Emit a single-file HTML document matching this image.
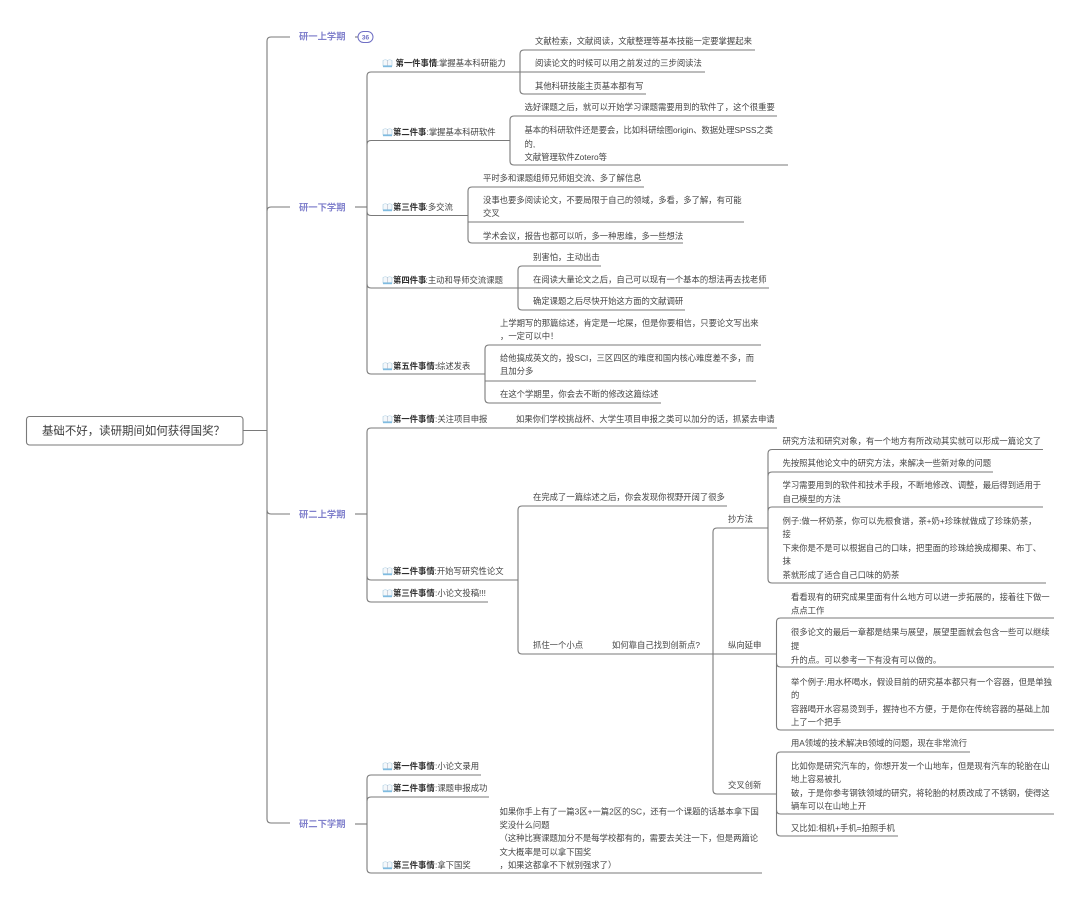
<!DOCTYPE html>
<html lang="zh">
<head>
<meta charset="utf-8">
<title>基础不好，读研期间如何获得国奖？</title>
<style>
html,body{margin:0;padding:0;background:#fff;width:1080px;height:900px;overflow:hidden}
svg{display:block;filter:blur(0.35px)}
text{font-family:"Liberation Sans","Noto Sans CJK SC",sans-serif;font-size:8.35px;fill:#444}
.b{font-weight:bold;fill:#2e2e2e}
.s{font-weight:bold;font-size:9.3px;fill:#8080cc}
.r{font-size:11.45px;fill:#3c3c3c}
.l{fill:none;stroke:#7a7a7a;stroke-width:1.1}
</style>
</head>
<body>
<svg width="1080" height="900" viewBox="0 0 1080 900" xmlns="http://www.w3.org/2000/svg">
<defs>
<g id="i">
<path d="M0 1.5Q2.5 0 4.5 1.5Q6.5 0 9 1.5V7H0Z" fill="#f4f8fb" stroke="#a8cce0" stroke-width=".6"/>
<rect x="0" y="6.4" width="9" height="1.8" fill="#7fbbe0"/>
<line x1="4.5" y1="1.5" x2="4.5" y2="6.5" stroke="#aab" stroke-width=".5"/>
</g>
</defs>

<!-- root -->
<rect x="26.5" y="416.5" width="216.5" height="28.5" rx="3" fill="#fff" stroke="#7a7a7a" stroke-width="1.1"/>
<text class="r" x="42" y="434.500">基础不好，读研期间如何获得国奖？</text>
<path class="l" d="M243 430.5H267"/>

<!-- main trunk and semesters -->
<path class="l" d="M290 37H271Q267 37 267 41V819Q267 823 271 823H290"/>
<path class="l" d="M290 207H271Q267 207 267 211"/>
<path class="l" d="M267 510Q267 514 271 514H290"/>
<text class="s" x="299" y="39.500">研一上学期</text>
<text class="s" x="299" y="210.500">研一下学期</text>
<text class="s" x="299" y="517.500">研二上学期</text>
<text class="s" x="299" y="827">研二下学期</text>
<path class="l" d="M355 37H358"/>
<rect x="358" y="31.500" width="15" height="11" rx="5.500" fill="#fff" stroke="#6f6fc4"/>
<text x="365.500" y="39.500" text-anchor="middle" style="font-size:6.500px;font-weight:bold;fill:#6f6fc4">36</text>

<!-- 研一下学期 -->
<path class="l" d="M355 207H367"/>
<path class="l" d="M520 72H371Q367 72 367 76V370Q367 374 371 374H485"/>
<path class="l" d="M367 144.500Q367 140.500 371 140.500H510"/>
<path class="l" d="M367 211.500Q367 215.500 371 215.500H468"/>
<path class="l" d="M367 284Q367 288 371 288H518"/>

<use href="#i" x="383" y="59"/>
<text class="b" x="395.500" y="66">第一件事情</text><text x="436.700" y="66">:掌握基本科研能力</text>
<use href="#i" x="383" y="128"/>
<text class="b" x="393" y="135">第二件事</text><text x="426.500" y="135">:掌握基本科研软件</text>
<use href="#i" x="383" y="203"/>
<text class="b" x="393" y="210">第三件事</text><text x="425.500" y="210">:多交流</text>
<use href="#i" x="383" y="276"/>
<text class="b" x="393" y="283">第四件事</text><text x="425.500" y="283">:主动和导师交流课题</text>
<use href="#i" x="383" y="362"/>
<text class="b" x="393" y="369">第五件事情:</text><text x="437" y="369">综述发表</text>

<!-- 1 -->
<path class="l" d="M755 50H524Q520 50 520 54V90Q520 94 524 94H646"/>
<path class="l" d="M520 72H705"/>
<text x="535" y="44">文献检索，文献阅读，文献整理等基本技能一定要掌握起来</text>
<text x="535" y="66">阅读论文的时候可以用之前发过的三步阅读法</text>
<text x="535" y="89">其他科研技能主页基本都有写</text>
<!-- 2 -->
<path class="l" d="M777 116H514Q510 116 510 120V161Q510 165 514 165H788"/>
<text x="524.500" y="110">选好课题之后，就可以开始学习课题需要用到的软件了，这个很重要</text>
<text x="524.500" y="133" textLength="248.500" lengthAdjust="spacingAndGlyphs">基本的科研软件还是要会，比如科研绘图origin、数据处理SPSS之类</text>
<text x="524.500" y="147">的,</text>
<text x="524.500" y="160">文献管理软件Zotero等</text>
<!-- 3 -->
<path class="l" d="M644 187H472Q468 187 468 191V239Q468 243 472 243H683"/>
<path class="l" d="M468 222H744"/>
<text x="483" y="181">平时多和课题组师兄师姐交流、多了解信息</text>
<text x="483" y="203">没事也要多阅读论文，不要局限于自己的领域，多看，多了解，有可能</text>
<text x="483" y="216">交叉</text>
<text x="483" y="239">学术会议，报告也都可以听，多一种思维，多一些想法</text>
<!-- 4 -->
<path class="l" d="M601 266H522Q518 266 518 270V306Q518 310 522 310H685"/>
<path class="l" d="M518 288H769"/>
<text x="533" y="260">别害怕，主动出击</text>
<text x="533" y="282.500">在阅读大量论文之后，自己可以现有一个基本的想法再去找老师</text>
<text x="533" y="304">确定课题之后尽快开始这方面的文献调研</text>
<!-- 5 -->
<path class="l" d="M761 345H489Q485 345 485 349V399Q485 403 489 403H661"/>
<path class="l" d="M485 381H756"/>
<text x="500" y="326">上学期写的那篇综述，肯定是一坨屎，但是你要相信，只要论文写出来</text>
<text x="500" y="339">，一定可以中！</text>
<text x="500" y="361" textLength="254" lengthAdjust="spacingAndGlyphs">给他搞成英文的，投SCI，三区四区的难度和国内核心难度差不多，而</text>
<text x="500" y="374">且加分多</text>
<text x="500" y="397">在这个学期里，你会去不断的修改这篇综述</text>

<!-- 研二上学期 -->
<path class="l" d="M355 514H367"/>
<path class="l" d="M777 428H371Q367 428 367 432V598Q367 602 371 602H488"/>
<path class="l" d="M367 576Q367 580 371 580H518"/>
<use href="#i" x="383" y="415"/>
<text class="b" x="393" y="422">第一件事情</text><text x="435" y="422">:关注项目申报</text>
<text x="516" y="422">如果你们学校挑战杯、大学生项目申报之类可以加分的话，抓紧去申请</text>
<use href="#i" x="383" y="567"/>
<text class="b" x="393" y="574">第二件事情</text><text x="434.500" y="574">:开始写研究性论文</text>
<use href="#i" x="383" y="589"/>
<text class="b" x="393" y="596">第三件事情</text><text x="435" y="596">:小论文投稿!!!</text>

<path class="l" d="M727 506H522Q518 506 518 510V650Q518 654 522 654H776"/>
<text x="533" y="500">在完成了一篇综述之后，你会发现你视野开阔了很多</text>
<text x="533" y="648">抓住一个小点</text>
<text x="612" y="648">如何靠自己找到创新点?</text>

<path class="l" d="M768 528H717Q713 528 713 532V790Q713 794 717 794H776"/>
<text x="728" y="522">抄方法</text>
<text x="728" y="648">纵向延申</text>
<text x="728" y="788">交叉创新</text>

<!-- 抄方法 -->
<path class="l" d="M1043 449.500H772Q768 449.500 768 453.500V579Q768 583 772 583H1046"/>
<path class="l" d="M768 476Q768 472 772 472H993"/>
<path class="l" d="M768 511Q768 507 772 507H1043"/>
<text x="782.500" y="444">研究方法和研究对象，有一个地方有所改动其实就可以形成一篇论文了</text>
<text x="782.500" y="466">先按照其他论文中的研究方法，来解决一些新对象的问题</text>
<text x="782.500" y="488">学习需要用到的软件和技术手段，不断地修改、调整，最后得到适用于</text>
<text x="782.500" y="502">自己模型的方法</text>
<text x="782.500" y="524">例子:做一杯奶茶，你可以先根食谱，茶+奶+珍珠就做成了珍珠奶茶，</text>
<text x="782.500" y="537">接</text>
<text x="782.500" y="551">下来你是不是可以根据自己的口味，把里面的珍珠给换成椰果、布丁、</text>
<text x="782.500" y="564">抹</text>
<text x="782.500" y="578">茶就形成了适合自己口味的奶茶</text>

<!-- 纵向延申 -->
<path class="l" d="M1054 618H780.500Q776.500 618 776.500 622V726Q776.500 730 780.500 730H1054"/>
<path class="l" d="M776.500 663Q776.500 667 780.500 667H1054"/>
<text x="791" y="600">看看现有的研究成果里面有什么地方可以进一步拓展的，接着往下做一</text>
<text x="791" y="613.500">点点工作</text>
<text x="791" y="635">很多论文的最后一章都是结果与展望，展望里面就会包含一些可以继续</text>
<text x="791" y="649">提</text>
<text x="791" y="663">升的点。可以参考一下有没有可以做的。</text>
<text x="791" y="685">举个例子:用水杯喝水，假设目前的研究基本都只有一个容器，但是单独</text>
<text x="791" y="698">的</text>
<text x="791" y="712">容器喝开水容易烫到手，握持也不方便，于是你在传统容器的基础上加</text>
<text x="791" y="725">上了一个把手</text>

<!-- 交叉创新 -->
<path class="l" d="M970 752H780.500Q776.500 752 776.500 756V832Q776.500 836 780.500 836H898"/>
<path class="l" d="M776.500 810Q776.500 814 780.500 814H1054"/>
<text x="791" y="746" textLength="176" lengthAdjust="spacingAndGlyphs">用A领域的技术解决B领域的问题，现在非常流行</text>
<text x="791" y="769">比如你是研究汽车的，你想开发一个山地车，但是现有汽车的轮胎在山</text>
<text x="791" y="782">地上容易被扎</text>
<text x="791" y="796">破，于是你参考钢铁领域的研究，将轮胎的材质改成了不锈钢，使得这</text>
<text x="791" y="809">辆车可以在山地上开</text>
<text x="791" y="831">又比如:相机+手机=拍照手机</text>

<!-- 研二下学期 -->
<path class="l" d="M355 824H367"/>
<path class="l" d="M481 775H371Q367 775 367 779V869Q367 873 371 873H762"/>
<path class="l" d="M367 801Q367 797 371 797H489"/>
<use href="#i" x="383" y="762"/>
<text class="b" x="393" y="769">第一件事情</text><text x="435" y="769">:小论文录用</text>
<use href="#i" x="383" y="784"/>
<text class="b" x="393" y="791">第二件事情</text><text x="435" y="791">:课题申报成功</text>
<use href="#i" x="383" y="861"/>
<text class="b" x="393" y="868">第三件事情</text><text x="435" y="868">:拿下国奖</text>
<text x="499.500" y="814.500">如果你手上有了一篇3区+一篇2区的SC，还有一个课题的话基本拿下国</text>
<text x="499.500" y="828">奖没什么问题</text>
<text x="499.500" y="841">（这种比赛课题加分不是每学校都有的，需要去关注一下，但是两篇论</text>
<text x="499.500" y="855">文大概率是可以拿下国奖</text>
<text x="499.500" y="868">，如果这都拿不下就别强求了）</text>
</svg>
</body>
</html>
